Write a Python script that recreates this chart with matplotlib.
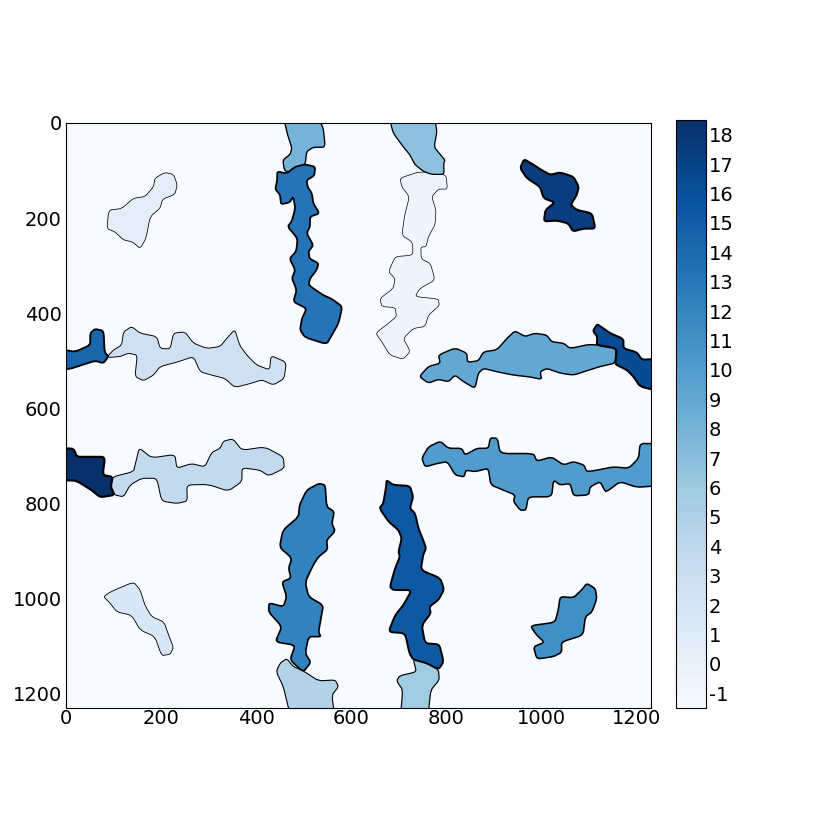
import numpy as np
import matplotlib
matplotlib.use('Agg')
import matplotlib.pyplot as plt
from matplotlib.cm import ScalarMappable
from matplotlib.colors import Normalize
from matplotlib.path import Path
from matplotlib.patches import PathPatch

# outlines, image coordinates (x, y)
left_top_small = [(187,116),(208,104),(226,108),(234,130),(229,150),(203,160),(198,179),(177,197),(168,243),(156,264),(140,250),(121,246),(103,229),(86,222),(90,183),(117,180),(142,158),(166,155),(184,134)]
left_bottom_small = [(79,996),(93,986),(142,965),(156,982),(166,1014),(180,1038),(206,1049),(217,1080),(226,1103),(219,1117),(201,1120),(187,1080),(156,1066),(138,1035),(107,1028),(93,1010)]
centre_upper = [(702,116),(744,102),(799,108),(802,139),(783,139),(769,155),(778,183),(776,214),(762,239),(757,260),(746,261),(747,286),(766,295),(776,330),(744,348),(734,365),(783,370),(785,384),(762,404),(755,428),(730,432),(709,453),(724,480),(709,497),(681,488),(664,460),(651,442),(678,421),(695,407),(692,388),(664,386),(660,369),(688,348),(692,327),(678,313),(692,281),(729,278),(729,251),(706,236),(712,194),(722,155),(706,134)]
left_upper_long = [(89,489),(100,477),(117,467),(121,439),(138,428),(156,442),(191,449),(198,474),(219,475),(226,442),(250,439),(268,463),(296,474),(324,470),(338,453),(355,434),(365,467),(380,488),(401,509),(428,519),(431,489),(463,503),(459,537),(436,551),(412,540),(387,548),(355,556),(334,537),(306,530),(282,523),(268,491),(233,503),(198,512),(184,530),(163,542),(145,533),(150,488),(131,484),(114,491),(89,493)]
left_lower_long = [(98,744),(142,733),(147,712),(154,683),(180,704),(229,697),(233,726),(264,716),(292,723),(306,693),(324,684),(331,669),(351,664),(370,688),(418,681),(457,702),(459,726),(426,742),(408,730),(370,725),(370,754),(341,774),(299,760),(254,761),(255,795),(233,800),(201,795),(191,747),(159,747),(135,761),(121,786),(102,782),(94,765)]
bottom_left_edge = [(464,1126),(478,1143),(499,1152),(531,1173),(566,1171),(573,1185),(559,1203),(564,1240),(470,1240),(457,1185),(442,1154),(450,1136)]
bottom_right_edge = [(730,1128),(751,1126),(783,1149),(785,1171),(767,1192),(762,1240),(704,1240),(708,1192),(695,1173),(702,1162),(737,1154)]
top_right_edge = [(681,-5),(688,21),(706,46),(723,67),(734,88),(752,102),(769,108),(795,108),(794,85),(797,78),(785,64),(774,50),(780,18),(776,-5)]
top_left_edge = [(459,-5),(466,25),(475,53),(471,66),(456,78),(459,99),(471,106),(489,92),(503,87),(506,60),(520,51),(545,51),(541,11),(533,-5)]
right_upper_long = [(743,533),(762,512),(787,505),(783,488),(818,473),(843,484),(844,503),(867,500),(878,481),(906,477),(927,453),(944,437),(965,449),(986,442),(1011,446),(1021,460),(1046,463),(1060,474),(1102,465),(1157,472),(1155,505),(1123,512),(1095,521),(1067,530),(1039,526),(1011,516),(997,523),(1000,539),(976,534),(941,530),(906,523),(878,516),(867,526),(860,558),(836,544),(818,530),(804,544),(783,539),(762,547)]
right_lower_long = [(748,705),(762,681),(787,669),(804,684),(832,684),(839,698),(864,684),(888,684),(892,662),(907,663),(913,695),(983,695),(990,711),(1021,702),(1046,719),(1067,712),(1089,719),(1095,733),(1116,730),(1151,723),(1183,726),(1204,705),(1207,674),(1240,674),(1240,763),(1200,766),(1165,754),(1141,772),(1134,775),(1123,754),(1102,765),(1099,782),(1067,784),(1060,758),(1039,761),(1025,751),(1021,786),(972,786),(967,814),(955,814),(941,796),(944,782),(920,772),(893,761),(888,726),(860,733),(841,730),(837,744),(818,740),(802,712),(780,716),(755,723)]
right_bottom_small = [(976,1057),(1028,1050),(1035,1024),(1039,996),(1067,998),(1084,982),(1095,968),(1113,979),(1116,1000),(1106,1028),(1092,1038),(1087,1077),(1042,1091),(1042,1113),(1025,1122),(990,1127),(983,1101),(1006,1092),(990,1077)]
bottom_left_tall = [(531,758),(545,761),(548,807),(564,817),(559,842),(566,858),(548,877),(550,897),(531,912),(520,929),(503,965),(510,996),(541,1014),(536,1042),(531,1070),(536,1080),(510,1080),(503,1115),(515,1134),(499,1154),(471,1129),(482,1098),(440,1091),(454,1059),(426,1028),(427,1009),(457,1017),(464,996),(454,965),(473,957),(468,936),(475,915),(449,892),(456,856),(489,828),(491,803),(506,772)]
top_left_tall = [(444,102),(464,106),(482,92),(503,87),(524,92),(522,111),(506,120),(508,134),(517,148),(520,169),(533,190),(513,197),(513,218),(506,232),(520,257),(510,270),(512,285),(531,295),(527,309),(513,327),(510,341),(541,362),(559,370),(581,386),(573,421),(559,446),(548,465),(503,451),(492,435),(496,411),(506,390),(478,376),(485,351),(475,327),(482,309),(470,285),(484,270),(487,243),(466,218),(475,206),(482,179),(478,155),(470,167),(452,171),(450,151),(440,139),(444,120)]
left_edge_upper = [(-5,477),(19,481),(51,467),(51,442),(61,433),(79,437),(81,481),(89,491),(79,505),(61,500),(33,509),(8,517),(-5,517)]
bottom_right_tall = [(674,751),(688,761),(723,763),(730,786),(723,810),(734,821),(741,852),(751,877),(757,894),(751,908),(746,940),(787,957),(795,981),(783,1003),(764,1017),(767,1031),(748,1056),(755,1094),(785,1096),(794,1133),(783,1149),(759,1136),(730,1128),(722,1115),(713,1073),(678,1070),(692,1035),(709,1014),(727,982),(688,982),(681,975),(692,936),(702,912),(699,901),(706,873),(699,856),(678,838),(659,810),(667,800),(673,765)]
right_edge_upper = [(1117,423),(1130,432),(1144,442),(1172,454),(1172,474),(1200,482),(1211,498),(1240,496),(1240,562),(1207,554),(1193,533),(1179,519),(1158,509),(1155,505),(1158,474),(1116,467),(1117,449),(1108,437)]
top_right_blob = [(963,76),(983,88),(1000,99),(1018,109),(1039,104),(1067,113),(1078,134),(1074,151),(1061,172),(1074,183),(1106,190),(1113,222),(1088,222),(1066,228),(1056,211),(1032,205),(1005,207),(1008,183),(1028,167),(1004,158),(997,134),(969,116),(955,95)]
left_edge_lower = [(-5,684),(16,685),(23,702),(51,702),(82,702),(77,740),(98,744),(94,765),(102,782),(72,787),(54,772),(22,752),(-5,751)]

regions = [centre_upper, left_top_small, left_bottom_small, left_upper_long, left_lower_long,
           bottom_left_edge, bottom_right_edge, top_right_edge, top_left_edge, right_upper_long,
           right_lower_long, right_bottom_small, bottom_left_tall, top_left_tall, left_edge_upper,
           bottom_right_tall, right_edge_upper, top_right_blob, left_edge_lower]
labels = [0, 1, 2, 3, 4, 5, 6, 7, 8, 9, 10, 11, 12, 13, 14, 15, 16, 17, 18]
cbar_ticks = [-1, 0, 1, 2, 3, 4, 5, 6, 7, 8, 9, 10, 11, 12, 13, 14, 15, 16, 17, 18]
axis_ticks = [0, 200, 400, 600, 800, 1000, 1200]
image_size = 1230


def rounded_path(outline, cut=0.25):
    # keep the outline, only take the sharp tip off each corner
    pts = np.array(outline, dtype=float)
    before = pts + cut * (np.roll(pts, 1, axis=0) - pts)
    after = pts + cut * (np.roll(pts, -1, axis=0) - pts)
    verts = [before[0]]
    codes = [Path.MOVETO]
    for i in range(len(pts)):
        if i > 0:
            verts.append(before[i])
            codes.append(Path.LINETO)
        verts += [pts[i], after[i]]
        codes += [Path.CURVE3, Path.CURVE3]
    verts.append(before[0])
    codes.append(Path.LINETO)
    return Path(verts, codes)


fig = plt.figure(figsize=(8.3, 8.3), dpi=100)
ax = fig.add_axes([66/830, 1 - 708/830, 585/830, 585/830])
cax = fig.add_axes([676/830, 1 - 708/830, 30/830, 588/830])

background = np.full((image_size, image_size), -1)
im = ax.imshow(background, cmap='Blues', vmin=-1, vmax=18, interpolation='nearest',
               extent=(0, image_size, image_size, 0), aspect='auto')

for outline, label in zip(regions, labels):
    patch = PathPatch(rounded_path(outline), facecolor=im.cmap(im.norm(label)), edgecolor='black',
                      linewidth=0.5 + 0.06 * label)
    ax.add_patch(patch)

ax.set_xlim(0, image_size)
ax.set_ylim(image_size, 0)
ax.set_xticks(axis_ticks)
ax.set_yticks(axis_ticks)
ax.tick_params(axis='x', length=0, labelsize=14, pad=1)
ax.tick_params(axis='y', length=0, labelsize=14, pad=3)

cb = fig.colorbar(ScalarMappable(norm=Normalize(-1.5, 18.5), cmap='Blues'), cax=cax)
cb.set_ticks(cbar_ticks)
cb.ax.tick_params(length=0, labelsize=14, pad=2)
cb.ax.set_yticklabels([str(t) for t in cbar_ticks])

fig.savefig('out.png', dpi=100)
